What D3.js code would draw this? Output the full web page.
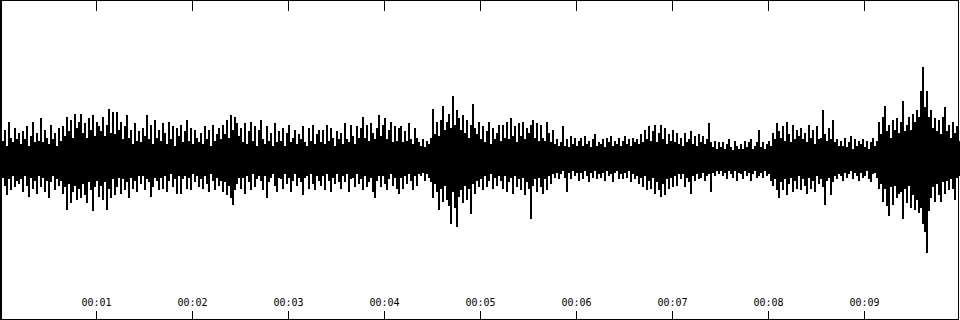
<!DOCTYPE html>
<html>
<head>
<meta charset="utf-8">
<script src="https://cdn.jsdelivr.net/npm/d3@7"></script>
<style>
  body { margin: 0; background: #fff; }
  svg { display: block; }
  .axis text { font-family: "DejaVu Sans Mono", monospace; font-size: 10px; fill: #000; }
  .axis line, .axis path { stroke: #000; shape-rendering: crispEdges; }
</style>
</head>
<body>
<div id="wave"></div>
<script>

// tick positions (seconds) and their labels
var tickTimes  = [1, 2, 3, 4, 5, 6, 7, 8, 9]
var tickLabels = ["00:01", "00:02", "00:03", "00:04", "00:05", "00:06", "00:07", "00:08", "00:09"]

var duration = 10   // seconds

// peak amplitude per bin (percent of full scale), 480 bins over 10 s
var peakMax = [
  22,12,19,9,24,14,11,20,13,17, 10,18,13,21,9,15,24,11,17,12,
  26,11,19,14,10,22,13,17,9,20, 12,21,15,27,18,25,14,29,20,24,
  29,17,23,14,26,19,28,15,24,21, 18,27,15,22,32,17,30,16,30,19,
  24,13,21,28,14,19,10,23,12,18, 11,20,15,28,13,22,10,25,14,19,
  12,23,17,10,24,13,21,9,20,15, 22,11,18,25,12,20,10,19,14,11,
  17,10,21,13,19,9,22,12,16,20, 13,22,16,25,14,28,19,27,23,15,
  20,11,23,10,18,24,12,21,9,19, 25,13,10,21,12,17,9,23,11,18,
  12,20,9,17,22,11,14,19,10,16, 13,21,11,9,20,12,22,10,16,19,
  11,19,10,22,12,20,14,9,18,13, 17,10,23,13,11,22,15,10,21,14,
  20,27,14,22,12,23,17,13,20,28, 15,22,26,13,19,24,11,21,12,20,
  21,11,18,12,23,13,10,20,14,11, 9,13,8,12,10,14,32,16,24,15,
  25,34,19,24,29,20,40,22,31,26, 19,28,17,25,14,22,35,20,16,24,
  13,21,11,18,24,10,20,13,17,22, 12,22,14,24,13,26,15,21,11,23,
  15,24,13,20,17,22,25,14,23,12, 22,14,12,24,17,11,19,10,13,9,
  11,21,9,13,8,15,10,14,9,12, 14,9,15,10,12,8,13,16,9,11,
  10,13,8,14,11,15,9,12,10,14, 9,12,15,10,13,9,14,11,13,10,
  16,11,19,13,21,12,18,22,11,17, 22,13,20,10,16,12,19,11,17,10,
  14,9,17,11,13,18,10,15,9,16, 11,15,10,13,23,11,8,12,7,11,
  8,11,7,10,13,8,6,12,9,7, 10,7,12,8,11,13,7,9,11,19,
  8,11,7,10,12,9,17,13,23,18, 14,21,12,24,16,11,22,13,19,15,
  20,13,17,11,22,14,19,10,21,13, 14,31,16,12,20,13,25,11,13,9,
  12,9,14,8,11,15,7,13,9,12, 10,13,8,12,7,11,14,9,12,24,
  16,27,34,18,22,14,25,19,26,17, 24,37,18,22,27,19,29,24,31,27,
  43,58,33,43,27,31,20,26,18,25, 16,27,33,18,22,14,24,17,21,12
]

var peakMin = [
  -18,-11,-16,-22,-12,-19,-10,-17,-13,-15, -12,-20,-10,-16,-23,-11,-18,-13,-21,-10,
  -17,-11,-20,-13,-24,-14,-10,-19,-12,-16, -13,-21,-17,-31,-15,-27,-20,-16,-25,-18,
  -24,-15,-22,-27,-14,-19,-32,-17,-13,-23, -16,-25,-14,-31,-18,-24,-12,-22,-17,-11,
  -21,-12,-19,-14,-24,-11,-18,-13,-20,-10, -15,-10,-19,-12,-14,-23,-17,-11,-13,-19,
  -11,-18,-10,-20,-13,-9,-17,-12,-21,-10, -21,-12,-10,-18,-11,-19,-9,-14,-10,-17,
  -12,-18,-10,-15,-20,-9,-13,-19,-11,-16, -13,-20,-14,-22,-16,-24,-28,-19,-15,-11,
  -18,-11,-21,-10,-14,-19,-9,-17,-12,-10, -13,-19,-10,-24,-14,-11,-9,-16,-20,-11,
  -12,-18,-9,-15,-11,-20,-13,-9,-16,-11, -14,-22,-11,-10,-18,-9,-15,-19,-10,-13,
  -16,-10,-19,-9,-13,-20,-11,-15,-9,-14, -18,-10,-14,-9,-20,-12,-11,-17,-9,-15,
  -12,-19,-10,-17,-14,-11,-20,-24,-13,-10, -17,-10,-15,-19,-12,-9,-16,-11,-18,-21,
  -11,-18,-10,-15,-9,-13,-19,-10,-16,-9, -10,-8,-13,-9,-11,-14,-24,-15,-20,-31,
  -18,-26,-16,-25,-29,-40,-20,-30,-42,-23, -19,-27,-16,-25,-18,-34,-15,-21,-13,-17,
  -12,-19,-10,-17,-13,-9,-18,-11,-16,-10, -13,-18,-10,-20,-14,-11,-21,-10,-17,-12,
  -19,-11,-22,-14,-18,-37,-16,-12,-20,-11, -17,-21,-12,-19,-10,-15,-9,-11,-8,-12,
  -9,-7,-11,-20,-8,-12,-7,-10,-8,-13, -8,-12,-7,-10,-14,-8,-11,-7,-12,-9,
  -11,-8,-13,-7,-10,-9,-14,-8,-7,-12, -9,-12,-8,-11,-7,-14,-9,-12,-10,-15,
  -11,-17,-10,-19,-13,-18,-11,-21,-14,-19, -23,-15,-22,-12,-18,-11,-17,-10,-16,-9,
  -12,-9,-17,-11,-14,-21,-10,-13,-9,-12, -11,-8,-13,-10,-9,-20,-8,-10,-7,-9,
  -7,-10,-8,-12,-7,-9,-11,-7,-13,-8, -9,-12,-7,-10,-8,-13,-9,-7,-11,-10,
  -8,-11,-7,-10,-9,-13,-16,-12,-19,-24, -14,-19,-12,-22,-15,-11,-20,-13,-18,-10,
  -19,-12,-16,-21,-11,-18,-13,-20,-10,-15, -12,-17,-28,-13,-11,-22,-14,-10,-12,-9,
  -10,-13,-8,-11,-9,-7,-12,-8,-10,-13, -8,-11,-10,-7,-12,-14,-9,-8,-11,-18,
  -15,-26,-18,-29,-35,-17,-28,-16,-24,-21, -20,-37,-18,-27,-16,-30,-22,-31,-25,-33,
  -30,-40,-45,-58,-32,-24,-17,-26,-15,-22, -26,-14,-21,-13,-19,-12,-18,-25,-11,-10
]

var width  = 960,
    height = 320

var x = d3.scaleLinear().domain([0, duration]).range([0, width])
var y = d3.scaleLinear().domain([-100, 100]).range([height, 0])

var binDur = duration / peakMax.length

var svg = d3.select("#wave").append("svg")
  .attr("width", width)
  .attr("height", height)

// waveform: one bar per bin from min to max
svg.append("g").selectAll("rect").data(peakMax).enter()
  .append("rect")
  .attr("x", function(d, i) { return x(i * binDur) })
  .attr("width", x(binDur) - x(0))
  .attr("y", function(d) { return Math.round(y(d)) })
  .attr("height", function(d, i) { return Math.round(y(peakMin[i])) - Math.round(y(d)) })
  .attr("fill", "#000")
  .attr("shape-rendering", "crispEdges")

// frame (left edge drawn a bit heavier, as in the original)
svg.append("rect")
  .attr("x", 0.5).attr("y", 0.5)
  .attr("width", width - 2).attr("height", height - 1.5)
  .attr("fill", "none")
  .attr("stroke", "#000")
  .attr("shape-rendering", "crispEdges")
svg.append("line")
  .attr("x1", 1.5).attr("x2", 1.5)
  .attr("y1", 0).attr("y2", height)
  .attr("stroke", "#000")
  .attr("shape-rendering", "crispEdges")

// bottom ticks + labels
svg.append("g")
  .attr("class", "axis")
  .attr("transform", "translate(0," + (height - 1.5) + ")")
  .call(d3.axisTop(x).tickValues(tickTimes).tickSize(8).tickSizeOuter(0).tickPadding(5)
    .tickFormat(function(d, i) { return tickLabels[i] }))
  .select(".domain").remove()

// top ticks
svg.append("g")
  .attr("class", "axis")
  .attr("transform", "translate(0,0.5)")
  .call(d3.axisBottom(x).tickValues(tickTimes).tickSize(10).tickSizeOuter(0).tickFormat(""))
  .select(".domain").remove()

</script>
</body>
</html>
